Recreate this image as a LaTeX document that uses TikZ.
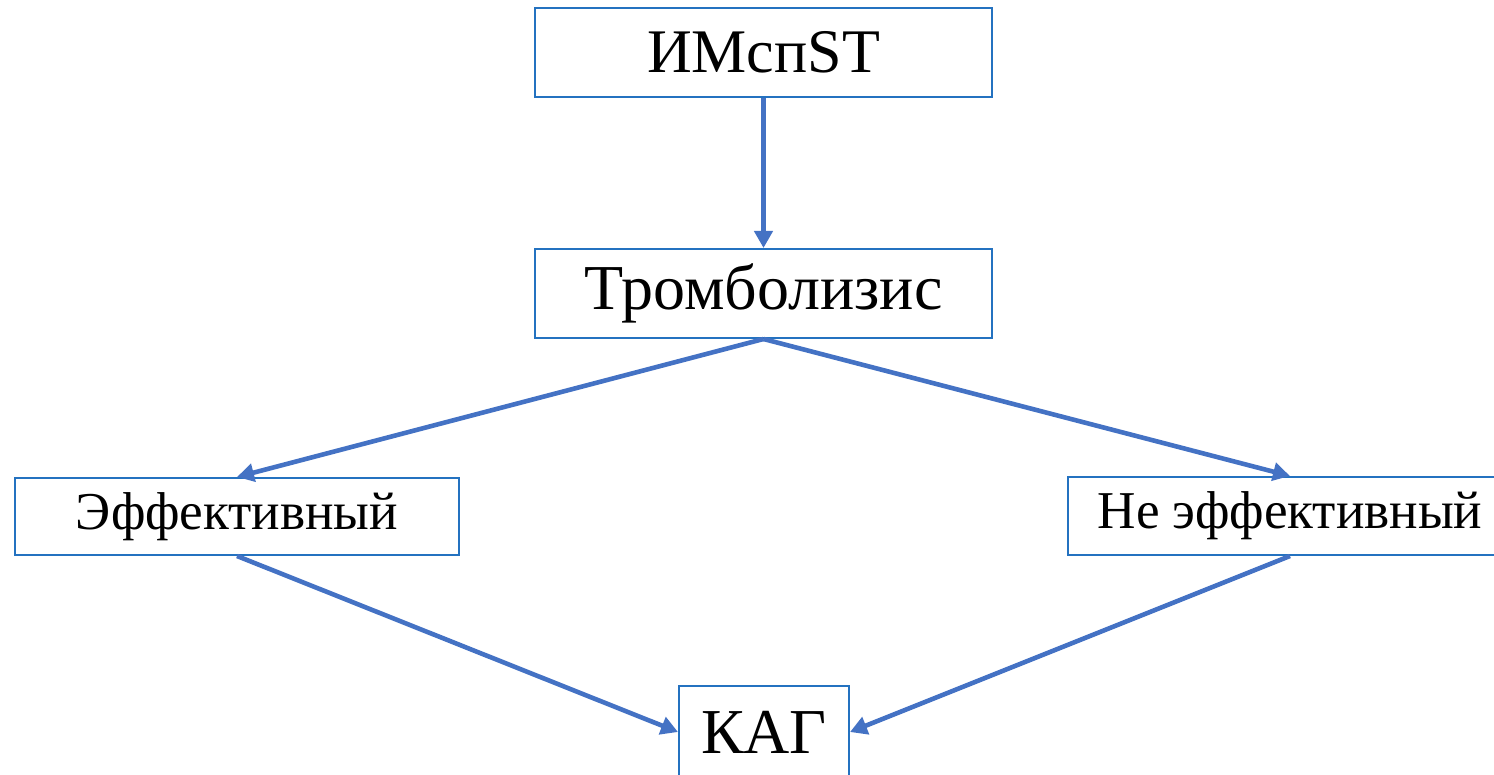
\documentclass[tikz,border=0pt]{standalone}
\usepackage{fontspec}
\setmainfont{Liberation Serif}
\usetikzlibrary{arrows.meta}
\definecolor{boxblue}{RGB}{36,114,192}
\definecolor{arrblue}{RGB}{68,114,196}
\tikzset{
  blk/.style={draw=boxblue,line width=1pt,fill=white,inner sep=0pt},
  arr/.style={draw=arrblue,line width=2.3pt,-{Triangle[length=8.5pt,width=9pt]}}
}
\begin{document}
\begin{tikzpicture}[x=0.5pt,y=-0.5pt]
\clip (0,0) rectangle (1494,775);
\node[blk,minimum width=228.5pt,minimum height=44.5pt,font=\fontsize{31}{36}\selectfont] (imst) at (763.5,52.5) {ИМcпST};
\node[blk,minimum width=228.5pt,minimum height=44.5pt,font=\fontsize{32}{36}\selectfont] (tromb) at (763.5,293.5) {Тромболизис};
\node[blk,minimum width=222pt,minimum height=38.5pt,font=\fontsize{26.6}{30}\selectfont] (eff) at (237,516.5) {Эффективный};
\node[blk,minimum width=222pt,minimum height=39pt,font=\fontsize{26.6}{30}\selectfont] (neeff) at (1290,516) {Не эффективный};
\node[blk,minimum width=85pt,minimum height=46pt,font=\fontsize{32}{36}\selectfont] (kag) at (764,732) {КАГ};
\draw[arr] (imst.south) -- (tromb.north);
\draw[arr] (tromb.south) -- (eff.north);
\draw[arr] (tromb.south) -- (neeff.north);
\draw[arr] (eff.south) -- (kag.west);
\draw[arr] (neeff.south) -- (kag.east);
\end{tikzpicture}
\end{document}
